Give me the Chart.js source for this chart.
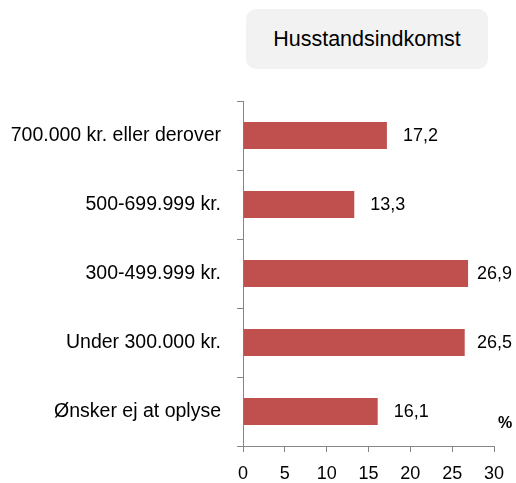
<!DOCTYPE html>
<html lang="da">
<head>
<meta charset="UTF-8">
<title>Husstandsindkomst</title>
<script src="https://cdn.jsdelivr.net/npm/chart.js@4.4.1/dist/chart.umd.min.js"></script>
<style>
  body { margin: 0; background: #fff; }
  #wrap { position: relative; width: 516px; height: 483px; }
  #titleBox {
    position: absolute; left: 246px; top: 9px; width: 242px; height: 60px;
    background: #f2f2f2; border-radius: 10px;
    font: 21.5px "Liberation Sans", Arial, sans-serif; color: #000;
    display: flex; align-items: center; justify-content: center;
  }
</style>
</head>
<body>
<div id="wrap">
  <canvas id="myChart" width="516" height="483"></canvas>
  <div id="titleBox">Husstandsindkomst</div>
</div>

<script>
  // kategorier, top til bund
  var categories = ["700.000 kr. eller derover", "500-699.999 kr.", "300-499.999 kr.", "Under 300.000 kr.", "Ønsker ej at oplyse"];
  var values = [17.2, 13.3, 26.9, 26.5, 16.1];
  var xTicks = [0, 5, 10, 15, 20, 25, 30];

  var axisColor = '#868686';
  var fontFamily = '"Liberation Sans", Arial, sans-serif';

  // værdier ved enden af søjlerne + "%" label
  var valueLabels = {
    id: 'valueLabels',
    afterDatasetsDraw: function (chart) {
      var ctx = chart.ctx;
      var meta = chart.getDatasetMeta(0);
      ctx.save();
      ctx.fillStyle = '#000';
      ctx.font = '18px ' + fontFamily;
      ctx.textAlign = 'left';
      ctx.textBaseline = 'middle';
      meta.data.forEach(function (bar, i) {
        var txt = values[i].toFixed(1).replace('.', ',');
        var w = ctx.measureText(txt).width;
        // skub ind hvis teksten ellers ryger ud over kanten
        var x = Math.min(bar.x + 16, chart.width - 4 - w);
        ctx.fillText(txt, x, bar.y + 1);
      });
      ctx.font = 'bold 16px ' + fontFamily;
      ctx.textAlign = 'center';
      ctx.fillText('%', chart.chartArea.right + 11, chart.chartArea.bottom - 22);
      ctx.restore();
    }
  };

  new Chart(document.getElementById('myChart'), {
    type: 'bar',
    data: {
      labels: categories,
      datasets: [{
        data: values,
        backgroundColor: '#c0504d',
        categoryPercentage: 1,
        barPercentage: 0.39
      }]
    },
    options: {
      indexAxis: 'y',
      responsive: false,
      animation: false,
      layout: { padding: { top: 101, right: 22, left: 0, bottom: 0 } },
      plugins: { legend: { display: false }, tooltip: { enabled: false } },
      scales: {
        x: {
          min: 0, max: 30,
          afterBuildTicks: function (axis) {
            axis.ticks = xTicks.map(function (v) { return { value: v }; });
          },
          afterFit: function (axis) { axis.height = 37; },
          border: { display: true, color: axisColor, width: 1 },
          grid: { drawOnChartArea: false, color: axisColor, tickLength: 6 },
          ticks: { color: '#000', padding: 11, font: { size: 18, family: fontFamily } }
        },
        y: {
          afterFit: function (axis) { axis.width = 243; },
          border: { display: true, color: axisColor, width: 1 },
          grid: { drawOnChartArea: false, color: axisColor, tickLength: 6, offset: true },
          ticks: { color: '#000', padding: 16, font: { size: 19.5, family: fontFamily } }
        }
      }
    },
    plugins: [valueLabels]
  });
</script>
</body>
</html>
